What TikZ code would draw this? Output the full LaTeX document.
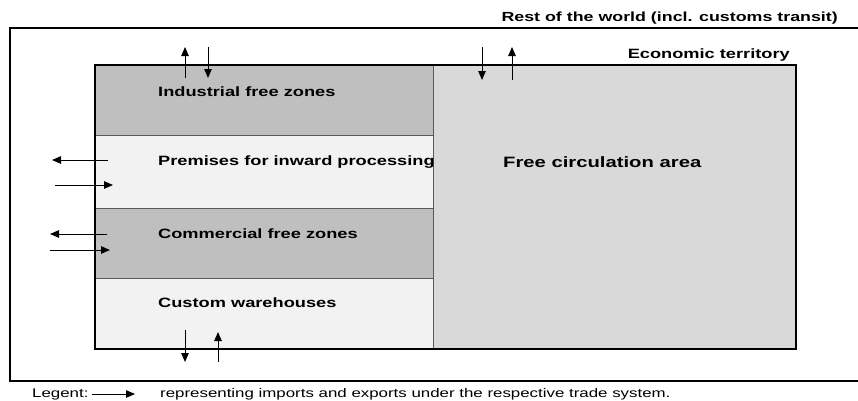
\documentclass[tikz,border=0pt]{standalone}
\usepackage{fontspec}
\setmainfont{Liberation Sans}[FakeStretch=1.35]
\usetikzlibrary{arrows.meta}

\definecolor{darkzone}{RGB}{191,191,191}
\definecolor{lightzone}{RGB}{242,242,242}
\definecolor{freezone}{RGB}{217,217,217}

\tikzset{
  zone/.style={draw=black!65, line width=0.9pt, minimum width=338pt, minimum height=70pt, anchor=north west, inner sep=0pt},
  zlabel/.style={anchor=west, inner sep=0pt, font=\fontsize{13.5}{15}\selectfont\bfseries},
  flow/.style={-{Triangle[length=9pt,width=7.5pt]}, line width=1pt},
}

\begin{document}
\begin{tikzpicture}[x=1pt, y=-1pt]
  \useasboundingbox (0,0) rectangle (858,400);
  % rest of the world
  \draw[line width=1.8pt] (858,28) -- (10,28) -- (10,381) -- (858,381);
  \node[anchor=east, inner sep=0pt, font=\fontsize{13.2}{15}\selectfont\bfseries] (rest) at (838,18) {Rest of the world (incl. customs transit)};
  % zones
  \node[zone, fill=darkzone] (ind) at (95,65) {};
  \node[zone, fill=lightzone, minimum height=73pt] (prem) at (95,135) {};
  \node[zone, fill=darkzone] (comm) at (95,208) {};
  \node[zone, fill=lightzone] (cust) at (95,278) {};
  \node[zone, fill=freezone, minimum width=362pt, minimum height=283pt] (free) at (433,65) {};
  \draw[line width=1.8pt] (ind.north west) rectangle (free.south east);
  \node[anchor=east, inner sep=0pt, font=\fontsize{13.5}{15}\selectfont\bfseries] (econ) at (790,55) {Economic territory};
  \node[zlabel] (indl) at (158,92) {Industrial free zones};
  \node[zlabel] (preml) at (158,162) {Premises for inward processing};
  \node[zlabel] (comml) at (158,234) {Commercial free zones};
  \node[zlabel] (custl) at (158,303) {Custom warehouses};
  \node[zlabel, font=\fontsize{15}{17}\selectfont\bfseries] (freel) at (503,162) {Free circulation area};
  % flows
  \draw[flow] (185,78) -- (185,47);
  \draw[flow] (208,47) -- (208,78);
  \draw[flow] (482,47) -- (482,80);
  \draw[flow] (512,80) -- (512,47);
  \draw[flow] (185,330) -- (185,362);
  \draw[flow] (218,362) -- (218,332);
  \draw[flow] (108,160) -- (52,160);
  \draw[flow] (55,185) -- (113,185);
  \draw[flow] (107,234) -- (50,234);
  \draw[flow] (50,250) -- (110,250);
  % legend
  \node[anchor=west, inner sep=0pt, font=\fontsize{12.5}{14}\selectfont] (leg) at (32,394) {Legent:};
  \draw[flow] (92,394) -- (135,394);
  \node[anchor=west, inner sep=0pt, font=\fontsize{12.5}{14}\selectfont] (legt) at (160,394) {representing imports and exports under the respective trade system.};
\end{tikzpicture}
\end{document}
